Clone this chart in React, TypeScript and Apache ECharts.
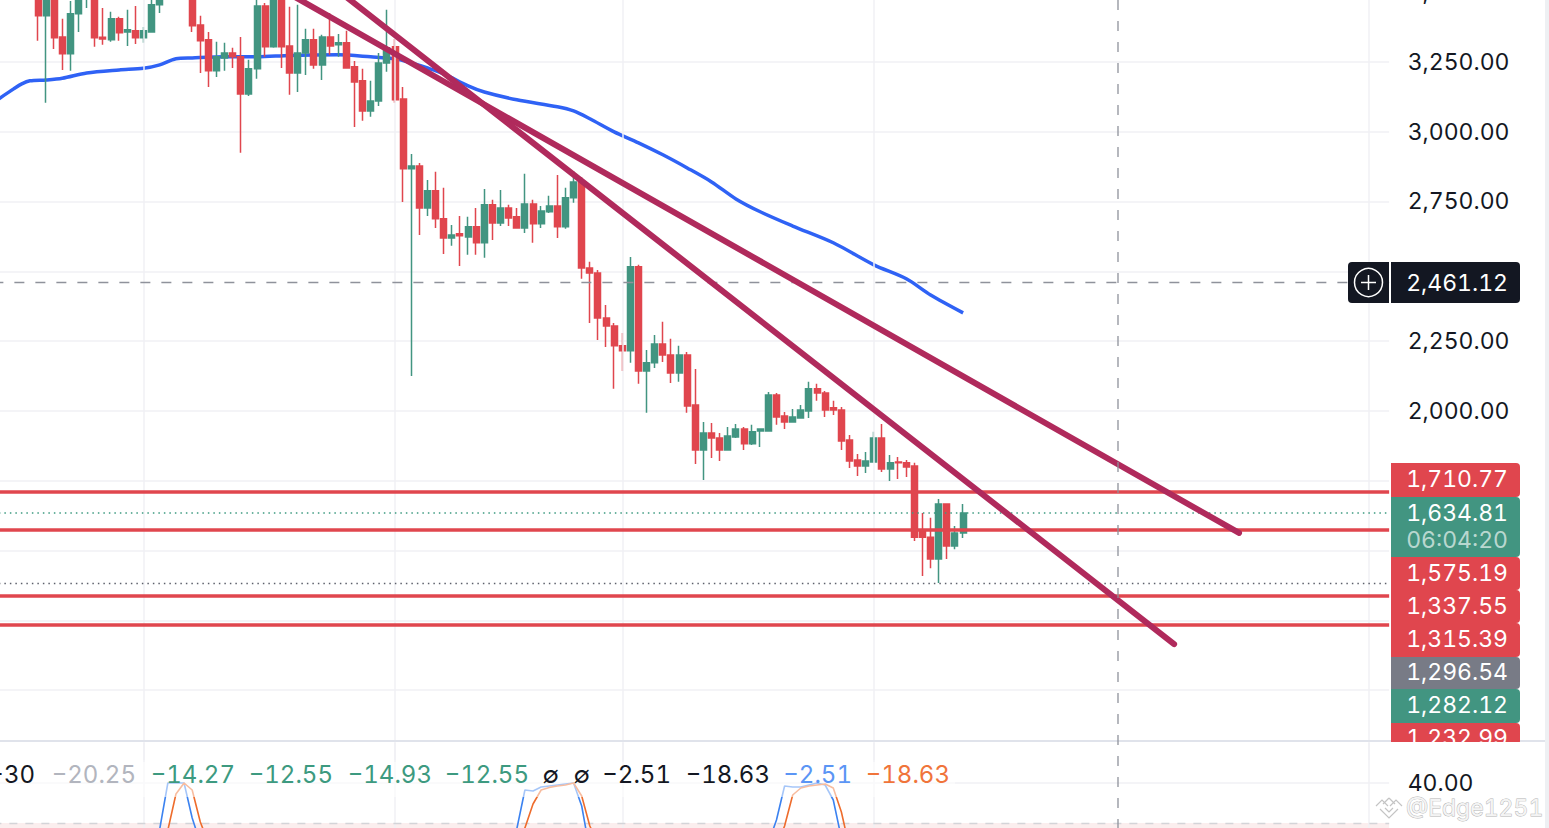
import React, { useEffect, useRef } from "react";
import * as echarts from "echarts";

const FONT = "Inter, 'Noto Sans', sans-serif";

// [open, close, low, high]; bars above the visible range keep prices above the top of the picture
const candles: number[][] = [
  [3520,3530,3510,3540],[3520,3530,3510,3540],[3520,3530,3510,3540],[3520,3530,3510,3540],[3520,3530,3510,3540],
  [3490,3415,3325,3510],[3415,3490,3103,3510],[3490,3336,3296,3510],[3339,3279,3221,3404],[3279,3422,3218,3468],
  [3422,3490,3357,3510],[3476,3490,3443,3510],[3490,3336,3304,3510],[3338,3332,3311,3443],[3329,3404,3322,3429],
  [3404,3354,3325,3411],[3357,3365,3307,3436],[3361,3336,3314,3450],[3336,3361,3318,3375],[3357,3454,3354,3472],
  [3454,3490,3425,3510],[3520,3530,3510,3540],[3520,3530,3510,3540],[3520,3530,3510,3540],[3490,3379,3357,3510],
  [3382,3325,3210,3415],[3329,3218,3160,3357],[3218,3268,3196,3322],[3264,3282,3218,3318],[3282,3268,3228,3300],
  [3268,3135,2924,3339],[3135,3225,3128,3257],[3225,3450,3189,3510],[3450,3304,3268,3461],[3304,3490,3300,3510],
  [3490,3304,3228,3510],[3307,3210,3132,3447],[3210,3282,3142,3454],[3282,3329,3203,3368],[3329,3239,3225,3368],
  [3239,3339,3185,3347],[3339,3307,3275,3425],[3311,3318,3268,3350],[3318,3228,3226,3361],[3232,3178,3017,3253],
  [3182,3074,3039,3225],[3074,3110,3053,3182],[3110,3246,3092,3282],[3246,3300,3214,3436],[3304,3114,3103,3332],
  [3117,2867,2748,3160],[2867,2877,2125,2920],[2877,2727,2630,2888],[2727,2788,2698,2827],[2788,2688,2655,2856],
  [2688,2619,2562,2799],[2619,2630,2591,2666],[2634,2627,2519,2698],[2623,2659,2559,2695],[2659,2602,2559,2727],
  [2602,2738,2548,2795],[2738,2673,2612,2756],[2673,2727,2662,2791],[2727,2691,2662,2738],[2695,2655,2652,2727],
  [2655,2741,2637,2849],[2741,2670,2602,2756],[2670,2716,2655,2734],[2713,2734,2709,2770],[2734,2659,2619,2845],
  [2659,2763,2652,2799],[2763,2820,2745,2859],[2820,2512,2473,2838],[2512,2494,2315,2534],[2494,2333,2254,2505],
  [2333,2304,2229,2379],[2304,2233,2079,2315],[2233,2215,2143,2279],[2215,2516,2172,2551],[2516,2143,2097,2523],
  [2143,2172,1993,2218],[2172,2240,2154,2272],[2240,2200,2175,2319],[2200,2136,2100,2258],[2136,2200,2104,2233],
  [2200,2018,1993,2211],[2021,1860,1810,2150],[1860,1921,1753,1960],[1921,1903,1831,1957],[1903,1860,1821,1921],
  [1860,1910,1858,1942],[1907,1935,1903,1953],[1935,1882,1860,1942],[1882,1925,1878,1950],[1928,1935,1871,1936],
  [1928,2057,1926,2068],[2057,1978,1950,2064],[1982,1960,1935,1996],[1960,1978,1958,2007],[1975,2003,1973,2021],
  [2000,2079,1975,2104],[2079,2064,2036,2097],[2064,2003,1978,2071],[2011,2003,1985,2036],[2003,1892,1860,2014],
  [1896,1821,1796,1914],[1824,1803,1767,1846],[1803,1821,1778,1853],[1817,1903,1816,1925],[1903,1792,1781,1953],
  [1792,1814,1749,1842],[1817,1814,1756,1835],[1814,1799,1763,1824],[1803,1548,1534,1814],[1574,1548,1409,1634],
  [1548,1470,1437,1617],[1470,1667,1384,1685],[1667,1516,1470,1668],[1516,1563,1505,1588],[1563,1634.81,1545,1667],
];

const movingAverage: number[][] = [
  [0,3114],[2,3153],[3,3171],[4,3182],[6,3185],[8,3191],[11,3210],[15,3221],[18,3227],[20,3239],[22,3261],[24,3264],
  [28,3268],[32,3268],[36,3273],[42,3275],[46,3268],[49,3261],[51,3246],[53,3228],[55,3207],[58,3164],[60,3142],
  [64,3114],[69,3089],[71,3074],[73,3046],[76,2999],[79,2960],[82,2917],[85,2870],[88,2820],[91,2759],[94,2713],
  [98,2662],[103,2602],[108,2523],[112,2473],[115,2415],[119,2351],
];

const trendLineUpper: number[][] = [[36,3493],[153,1563]];
const trendLineLower: number[][] = [[43,3482],[145,1165]];
const solidLevels = [1710.77, 1575.19, 1337.55, 1232.99];
const lastPrice = 1634.81;
const lowDotted = 1384;
const crosshairPrice = 2461.12;
const timeGridBars = [18, 49, 77, 108, 169];
const shownPriceTicks = [2000, 2250, 2750, 3000, 3250, 3500];

const rsiBlue: (number | null)[][] = [
  [19,25],[20,28.5],[21,40],[22,40],[23,40],[24,31.25],[25,25],
  [26,null],
  [63,25],[64,28.5],[65,38.25],[66,38],[67,39],[68,39.25],[69,39.5],[70,39.75],[71,40],[72,34.25],[73,23],
  [74,null],
  [95,25],[96,30.75],[97,39.25],[98,39],[99,39],[100,39.5],[101,40],[102,39.5],[103,35.75],[104,26.25],
];
const rsiOrange: (number | null)[][] = [
  [20,23],[21,28.2],[22,37.25],[23,40],[24,38.25],[25,30.25],[26,25],
  [27,null],
  [64,25],[65,28.75],[66,34.75],[67,38.25],[68,38.9],[69,39.25],[70,39.5],[71,40],[72,36.75],[73,29.25],[74,25],
  [75,null],
  [96,24],[97,29.25],[98,37],[99,38.75],[100,39.25],[101,39.5],[102,39.75],[103,38.75],[104,32.75],[105,23.75],
];

const legendItems = [
  { text: "−30", color: "#131722", right: 35 },
  { text: "−20.25", color: "#b2b5be", right: 136 },
  { text: "−14.27", color: "#3d9a80", right: 235 },
  { text: "−12.55", color: "#3d9a80", right: 333 },
  { text: "−14.93", color: "#3d9a80", right: 432 },
  { text: "−12.55", color: "#3d9a80", right: 529 },
  { text: "∅", color: "#131722", right: 559 },
  { text: "∅", color: "#131722", right: 590 },
  { text: "−2.51", color: "#131722", right: 671 },
  { text: "−18.63", color: "#131722", right: 770 },
  { text: "−2.51", color: "#5b95f5", right: 852 },
  { text: "−18.63", color: "#f0743a", right: 950 },
];

const priceTags = [
  { text: "1,710.77", color: "#e0464e", top: 463, bottom: 497, mid: 479 },
  { text: "1,634.81", color: "#429581", top: 497, bottom: 557, mid: 513, sub: "06:04:20" },
  { text: "1,575.19", color: "#e0464e", top: 557, bottom: 590, mid: 573 },
  { text: "1,337.55", color: "#e0464e", top: 590, bottom: 623, mid: 606 },
  { text: "1,315.39", color: "#e0464e", top: 623, bottom: 657, mid: 639 },
  { text: "1,296.54", color: "#787b86", top: 657, bottom: 689, mid: 672 },
  { text: "1,282.12", color: "#429581", top: 689, bottom: 723, mid: 705 },
  { text: "1,232.99", color: "#e0464e", top: 723, bottom: 745, mid: 738 },
];

const barCount = 172;
const barStep = 8.115;
const categories = Array.from({ length: barCount }, (_, i) => String(i));

function buildOption() {
  const hline = (v: number, color: string, width: number, type: any) => ({
    yAxis: v,
    lineStyle: { color, width, type, opacity: 1 },
  });
  const graphic: any[] = [];
  graphic.push({ type: "rect", z: 40, shape: { x: 1545, y: 0, width: 4, height: 828 }, style: { fill: "#eef0f3" } });
  graphic.push({ type: "line", z: 40, shape: { x1: 0, y1: 741, x2: 1545, y2: 741 }, style: { stroke: "#e0e3eb", lineWidth: 2 } });
  graphic.push({ type: "rect", z: 40, shape: { x: 0, y: 762, width: 955, height: 35 }, style: { fill: "rgba(255,255,255,0.55)" } });
  legendItems.forEach((l) =>
    graphic.push({
      type: "text", z: 45, x: l.right, y: 774,
      style: { text: l.text, fill: l.color, font: `24px ${FONT}`, align: "right", verticalAlign: "middle" },
    })
  );
  graphic.push({
    type: "line", z: 42, shape: { x1: 1118, y1: 0, x2: 1118, y2: 828 },
    style: { stroke: "#8f929b", lineWidth: 1.3, lineDash: [10, 11] },
  });
  priceTags.forEach((t) => {
    graphic.push({
      type: "rect", z: 50, shape: { x: 1391, y: t.top, width: 129, height: t.bottom - t.top, r: [0, 4, 4, 0] },
      style: { fill: t.color },
    });
    graphic.push({
      type: "text", z: 51, x: 1508, y: t.mid,
      style: { text: t.text, fill: "#fff", font: `23px ${FONT}`, align: "right", verticalAlign: "middle" },
    });
    if (t.sub)
      graphic.push({
        type: "text", z: 51, x: 1508, y: t.mid + 27,
        style: { text: t.sub, fill: "rgba(255,255,255,0.65)", font: `23px ${FONT}`, align: "right", verticalAlign: "middle" },
      });
  });
  graphic.push({ type: "rect", z: 52, shape: { x: 1391, y: 742, width: 129, height: 20 }, style: { fill: "#fff" } });
  graphic.push({ type: "rect", z: 50, shape: { x: 1348, y: 262, width: 41, height: 41, r: [4, 0, 0, 4] }, style: { fill: "#131722" } });
  graphic.push({ type: "rect", z: 50, shape: { x: 1391, y: 262, width: 129, height: 41, r: [0, 4, 4, 0] }, style: { fill: "#131722" } });
  graphic.push({ type: "circle", z: 51, shape: { cx: 1368.5, cy: 282.5, r: 14 }, style: { fill: "none", stroke: "#fff", lineWidth: 1.5 } });
  graphic.push({ type: "line", z: 51, shape: { x1: 1361, y1: 282.5, x2: 1376, y2: 282.5 }, style: { stroke: "#fff", lineWidth: 1.5 } });
  graphic.push({ type: "line", z: 51, shape: { x1: 1368.5, y1: 275, x2: 1368.5, y2: 290 }, style: { stroke: "#fff", lineWidth: 1.5 } });
  graphic.push({
    type: "text", z: 51, x: 1508, y: 282.5,
    style: { text: "2,461.12", fill: "#fff", font: `23px ${FONT}`, align: "right", verticalAlign: "middle" },
  });
  const wm = "#c4c4c4";
  [
    [[1376, 806], [1382, 800], [1388, 806]],
    [[1389, 798], [1383, 804]],
    [[1389, 798], [1395, 804]],
    [[1390, 806], [1396, 800], [1402, 806]],
    [[1380, 809], [1389, 818], [1398, 809]],
    [[1385, 808], [1389, 812], [1393, 808]],
  ].forEach((pts) =>
    graphic.push({ type: "polyline", z: 60, shape: { points: pts }, style: { fill: "none", stroke: wm, lineWidth: 1.2 } })
  );
  graphic.push({
    type: "text", z: 60, x: 1406, y: 808,
    style: { text: "@Edge1251", fill: "#f4f4f4", stroke: "#b4b4b4", lineWidth: 0.9, font: `23px ${FONT}`, align: "left", verticalAlign: "middle" },
  });

  const axisText = { color: "#131722", fontSize: 23, fontFamily: FONT, margin: 18.5 };

  return {
    animation: false,
    backgroundColor: "#ffffff",
    grid: [
      { left: -6.63, top: -8, width: barCount * barStep, height: 768, outerBoundsMode: "none" },
      { left: -6.63, top: 743, width: barCount * barStep, height: 120, outerBoundsMode: "none" },
    ],
    xAxis: [
      { type: "category", gridIndex: 0, data: categories, axisLine: { show: false }, axisTick: { show: false }, axisLabel: { show: false }, splitLine: { show: false } },
      { type: "category", gridIndex: 1, data: categories, axisLine: { show: false }, axisTick: { show: false }, axisLabel: { show: false }, splitLine: { show: false } },
    ],
    yAxis: [
      {
        type: "value", gridIndex: 0, position: "right", min: 750, max: 3500, interval: 250,
        axisLine: { show: false }, axisTick: { show: false },
        splitLine: { show: true, showMinLine: false, lineStyle: { color: "#f0f1f4", width: 1.5 } },
        axisLabel: {
          ...axisText, showMinLabel: false,
          formatter: (v: number) =>
            shownPriceTicks.includes(v) ? v.toLocaleString("en-US", { minimumFractionDigits: 2, maximumFractionDigits: 2 }) : "",
        },
      },
      {
        type: "value", gridIndex: 1, position: "right", min: 20, max: 50, interval: 10,
        axisLine: { show: false }, axisTick: { show: false }, splitLine: { show: false },
        axisLabel: { ...axisText, formatter: (v: number) => (v === 40 ? "40.00" : "") },
      },
    ],
    series: [
      {
        type: "line", name: "time grid", xAxisIndex: 0, yAxisIndex: 0, z: 1, data: [[0, 3000]], symbol: "none",
        lineStyle: { opacity: 0 },
        markLine: {
          silent: true, symbol: "none", animation: false, label: { show: false },
          lineStyle: { color: "#f0f1f4", width: 1.5, type: "solid" },
          data: timeGridBars.map((b) => ({ xAxis: String(b) })),
        },
      },
      {
        type: "line", name: "time grid lower", xAxisIndex: 1, yAxisIndex: 1, z: 1, data: [[0, 40]], symbol: "none",
        lineStyle: { opacity: 0 },
        markLine: {
          silent: true, symbol: "none", animation: false, label: { show: false },
          data: [
            ...timeGridBars.map((b) => ({ xAxis: String(b), lineStyle: { color: "#f0f1f4", width: 1.5, type: "solid" } })),
            hline(40, "#f0f1f4", 1.5, "solid"),
            hline(30, "#d4d4d8", 1.3, [8, 8]),
          ],
        },
        markArea: {
          silent: true,
          itemStyle: { color: "#fbeeee" },
          data: [[{ yAxis: 30 }, { yAxis: 20 }]],
        },
      },
      {
        type: "line", name: "MA", xAxisIndex: 0, yAxisIndex: 0, z: 2, data: movingAverage, symbol: "none", smooth: 0.3,
        lineStyle: { color: "#2f62f5", width: 3.5 },
      },
      {
        type: "candlestick", name: "Price", xAxisIndex: 0, yAxisIndex: 0, z: 3, data: candles, barWidth: 6.5, clip: true,
        itemStyle: { color: "#429581", color0: "#e0464e", borderColor: "#429581", borderColor0: "#e0464e", borderWidth: 1.5 },
      },
      {
        type: "line", name: "levels", xAxisIndex: 0, yAxisIndex: 0, z: 4, data: [[0, 3000]], symbol: "none",
        lineStyle: { opacity: 0 },
        markLine: {
          silent: true, symbol: "none", animation: false, label: { show: false },
          data: [
            hline(crosshairPrice, "#8f929b", 1.3, [10, 11]),
            hline(lastPrice, "#3d9a80", 1.5, [1.5, 4]),
            hline(lowDotted, "#5d606b", 1.3, [1.5, 4]),
            ...solidLevels.map((v) => hline(v, "#e0464e", 3.5, "solid")),
          ],
        },
      },
      {
        type: "line", name: "trend upper", xAxisIndex: 0, yAxisIndex: 0, z: 5, data: trendLineUpper, symbol: "none",
        lineStyle: { color: "#b02a5c", width: 6, cap: "round" },
      },
      {
        type: "line", name: "trend lower", xAxisIndex: 0, yAxisIndex: 0, z: 5, data: trendLineLower, symbol: "none",
        lineStyle: { color: "#b02a5c", width: 6, cap: "round" },
      },
      {
        type: "line", name: "RSI fast", xAxisIndex: 1, yAxisIndex: 1, z: 6, data: rsiBlue, symbol: "none",
        lineStyle: { color: "#3b82f0", width: 1.6 },
      },
      {
        type: "line", name: "RSI slow", xAxisIndex: 1, yAxisIndex: 1, z: 6, data: rsiOrange, symbol: "none",
        lineStyle: { color: "#ee6c2c", width: 1.6 },
      },
    ],
    graphic,
  };
}

export default function App() {
  const ref = useRef<HTMLDivElement>(null);
  useEffect(() => {
    const chart = echarts.init(ref.current!, undefined, { renderer: "svg" });
    chart.setOption(buildOption() as any);
    return () => chart.dispose();
  }, []);
  return (
    <>
      <style>{'svg text { font-feature-settings: "tnum" 1 !important; font-variant-numeric: tabular-nums !important; }'}</style>
      <div ref={ref} style={{ position: "fixed", left: 0, top: 0, width: 1549, height: 828, background: "#fff" }} />
    </>
  );
}
